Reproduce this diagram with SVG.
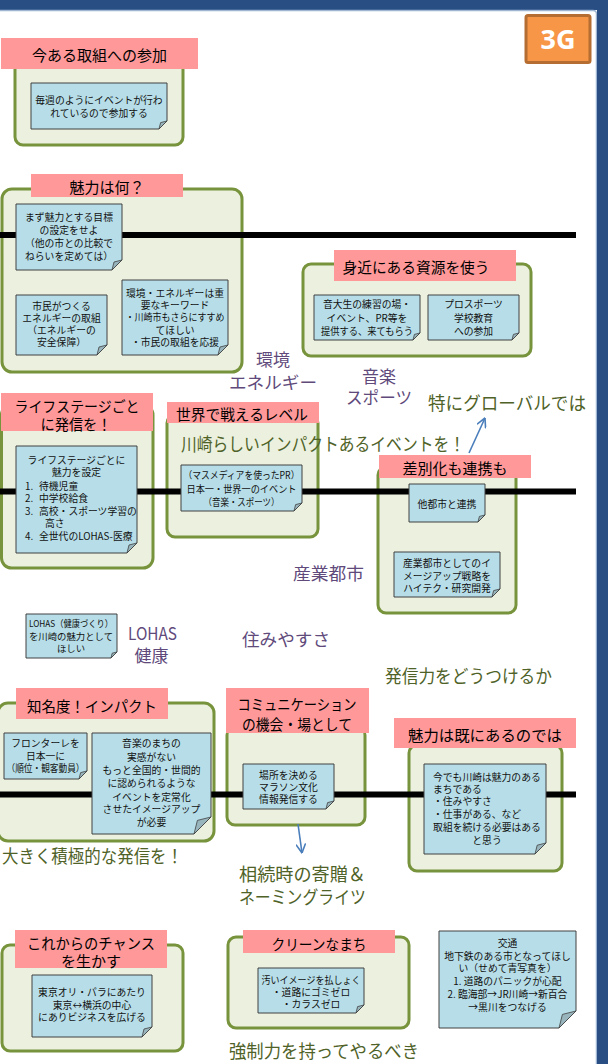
<svg xmlns="http://www.w3.org/2000/svg" width="608" height="1064" viewBox="0 0 608 1064">
<defs>
<style>
.box{fill:#EBF1DE;stroke:#77933C;stroke-width:3}
.hdr{fill:#FF9999}
.note{fill:#B7DEE8;stroke:#404040;stroke-width:1}
.fold{fill:#98B5BD;stroke:#404040;stroke-width:0.8;stroke-linejoin:round}
text{font-family:"Noto Sans CJK JP","Noto Sans",sans-serif;dominant-baseline:central}
.ht{font-size:15px;fill:#000;text-anchor:middle}
.nt{font-size:9.8px;fill:#111;text-anchor:middle}
.nl{text-anchor:start}
.pu{font-size:17px;fill:#604A7B}
.ol{font-size:18px;fill:#4F6228}
.mid{text-anchor:middle}
.sep{stroke:#000;stroke-width:6}
.arr{stroke:#4A7EBB;stroke-width:1.6;fill:none;marker-end:url(#ah)}
</style>
<marker id="ah" viewBox="0 0 10 10" refX="9.5" refY="5" markerWidth="10" markerHeight="10" orient="auto" markerUnits="userSpaceOnUse"><path d="M1,0.5 L9.5,5 L1,9.5" fill="none" stroke="#4A7EBB" stroke-width="1.6" stroke-linecap="round" stroke-linejoin="round"/></marker>
</defs>

<g id="frame">
<rect x="0" y="0" width="608" height="10" fill="#284E84"/>
<path d="M0,10.5 H593 Q596.5,10.5 596.5,14 V1064" fill="none" stroke="#9FB6D3" stroke-width="1.5"/>
<rect x="597" y="0" width="11" height="1064" fill="#284E84"/>
</g>

<g id="badge-3g">
<rect x="526" y="15.5" width="64" height="47" rx="2" fill="#F79646" stroke="#B66D31" stroke-width="3"/>
<text x="558" y="49" style="font-family:'Noto Sans','Liberation Sans',sans-serif;font-weight:bold;font-size:27px;fill:#fff;text-anchor:middle;dominant-baseline:auto">3G</text>
</g>

<g id="containers">
<g id="c-imaaru">
<rect class="box" x="15" y="55" width="168" height="90" rx="8"/>
<rect class="hdr" x="1" y="38" width="197" height="31"/>
<text class="ht" x="99.5" y="54">今ある取組への参加</text>
</g>
<g id="c-miryoku">
<rect class="box" x="2" y="189" width="240" height="183" rx="10"/>
<rect class="hdr" x="31" y="174" width="152" height="23"/>
<text class="ht" x="107" y="186">魅力は何？</text>
</g>
<g id="c-mijika">
<rect class="box" x="303" y="264" width="228" height="92" rx="8"/>
<rect class="hdr" x="334" y="250" width="182" height="31"/>
<text class="ht" x="416" y="266" textLength="147" lengthAdjust="spacingAndGlyphs">身近にある資源を使う</text>
</g>
<g id="c-lifestage">
<rect class="box" x="1.5" y="405" width="151.5" height="163" rx="10"/>
<rect class="hdr" x="1" y="393" width="152" height="38"/>
<text class="ht" x="77" y="405" textLength="125" lengthAdjust="spacingAndGlyphs">ライフステージごと</text>
<text class="ht" x="76" y="423" textLength="71" lengthAdjust="spacingAndGlyphs">に発信を！</text>
</g>
<g id="c-sekai">
<rect class="box" x="167" y="415" width="151" height="122" rx="8"/>
<rect class="hdr" x="167" y="402" width="152" height="21"/>
<text class="ht" x="242" y="413" textLength="132" lengthAdjust="spacingAndGlyphs">世界で戦えるレベル</text>
</g>
<g id="c-sabetsuka">
<rect class="box" x="378" y="467" width="138" height="146" rx="8"/>
<rect class="hdr" x="379" y="455" width="152" height="23"/>
<text class="ht" x="455" y="467">差別化も連携も</text>
</g>
<g id="c-chimeido">
<rect class="box" x="-2" y="703" width="216" height="138" rx="10"/>
<rect class="hdr" x="16" y="688" width="152" height="31"/>
<text class="ht" x="92" y="705" textLength="130" lengthAdjust="spacingAndGlyphs">知名度！インパクト</text>
</g>
<g id="c-communication">
<rect class="box" x="227" y="727" width="138" height="98" rx="8"/>
<rect class="hdr" x="226" y="688" width="143" height="45"/>
<text class="ht" x="297" y="703" textLength="119" lengthAdjust="spacingAndGlyphs">コミュニケーション</text>
<text class="ht" x="297" y="723" textLength="110" lengthAdjust="spacingAndGlyphs">の機会・場として</text>
</g>
<g id="c-sudeni">
<rect class="box" x="409" y="745" width="153" height="126" rx="8"/>
<rect class="hdr" x="394" y="718" width="182" height="30"/>
<text class="ht" x="485" y="734" textLength="154" lengthAdjust="spacingAndGlyphs">魅力は既にあるのでは</text>
</g>
<g id="c-chance">
<rect class="box" x="2" y="945" width="181" height="106" rx="8"/>
<rect class="hdr" x="15" y="930" width="152" height="38"/>
<text class="ht" x="91" y="942" textLength="128" lengthAdjust="spacingAndGlyphs">これからのチャンス</text>
<text class="ht" x="91" y="960">を生かす</text>
</g>
<g id="c-clean">
<rect class="box" x="228" y="937" width="181" height="91" rx="8"/>
<rect class="hdr" x="243" y="930" width="152" height="23"/>
<text class="ht" x="319" y="943" textLength="95" lengthAdjust="spacingAndGlyphs">クリーンなまち</text>
</g>
</g>

<g id="separators">
<line class="sep" x1="0" y1="235" x2="576" y2="235"/>
<line class="sep" x1="0" y1="491.5" x2="576" y2="491.5"/>
<line class="sep" x1="0" y1="794.5" x2="576" y2="794.5"/>
</g>

<g id="notes">
<g id="n-maishu">
<path class="note" d="M31,83 H167 V121 L159,129 H31 Z"/><path class="fold" d="M159,129 L160.6,122.6 L167,121 Z"/>
<text class="nt" x="99" y="100">毎週のようにイベントが行わ</text>
<text class="nt" x="99" y="113">れているので参加する</text>
</g>
<g id="n-mokuhyo">
<path class="note" d="M16,204 H122 V260 L112,270 H16 Z"/><path class="fold" d="M112,270 L114,262 L122,260 Z"/>
<text class="nt" x="69" y="217">まず魅力とする目標</text>
<text class="nt" x="69" y="230">の設定をせよ</text>
<text class="nt" x="69" y="243">（他の市との比較で</text>
<text class="nt" x="69" y="256">ねらいを定めては）</text>
</g>
<g id="n-shimin">
<path class="note" d="M16,295 H107 V345 L97,355 H16 Z"/><path class="fold" d="M97,355 L99,347 L107,345 Z"/>
<text class="nt" x="61.5" y="306">市民がつくる</text>
<text class="nt" x="61.5" y="318">エネルギーの取組</text>
<text class="nt" x="61.5" y="330">（エネルギーの</text>
<text class="nt" x="61.5" y="342">安全保障）</text>
</g>
<g id="n-kankyo">
<path class="note" d="M122,280 H228 V345 L218,355 H122 Z"/><path class="fold" d="M218,355 L220,347 L228,345 Z"/>
<text class="nt" x="175" y="293">環境・エネルギーは重</text>
<text class="nt" x="175" y="305">要なキーワード</text>
<text class="nt" x="175" y="317" textLength="99" lengthAdjust="spacingAndGlyphs">・川崎市もさらにすすめ</text>
<text class="nt" x="175" y="330">てほしい</text>
<text class="nt" x="175" y="342">・市民の取組を応援</text>
</g>
<g id="n-ondaisei">
<path class="note" d="M314,295 H420 V333 L413,340 H314 Z"/><path class="fold" d="M413,340 L414.4,334.4 L420,333 Z"/>
<text class="nt" x="367" y="304">音大生の練習の場・</text>
<text class="nt" x="367" y="318">イベント、PR等を</text>
<text class="nt" x="367" y="331" textLength="92" lengthAdjust="spacingAndGlyphs">提供する、来てもらう</text>
</g>
<g id="n-prosports">
<path class="note" d="M428,295 H519 V333 L512,340 H428 Z"/><path class="fold" d="M512,340 L513.4,334.4 L519,333 Z"/>
<text class="nt" x="473.5" y="304">プロスポーツ</text>
<text class="nt" x="473.5" y="318">学校教育</text>
<text class="nt" x="473.5" y="331">への参加</text>
</g>
<g id="n-lifestage">
<path class="note" d="M16,446 H137 V543 L127,553 H16 Z"/><path class="fold" d="M127,553 L129,545 L137,543 Z"/>
<text class="nt" x="76.5" y="460">ライフステージごとに</text>
<text class="nt" x="76.5" y="472">魅力を設定</text>
<text class="nt nl" x="25" y="486">1.<tspan x="39">待機児童</tspan></text>
<text class="nt nl" x="25" y="498">2.<tspan x="39">中学校給食</tspan></text>
<text class="nt nl" x="25" y="511">3.<tspan x="39">高校・スポーツ学習の</tspan></text>
<text class="nt nl" x="45" y="523">高さ</text>
<text class="nt nl" x="25" y="536">4.<tspan x="39">全世代のLOHAS-医療</tspan></text>
</g>
<g id="n-massmedia">
<path class="note" d="M181,465 H302 V503 L294,511 H181 Z"/><path class="fold" d="M294,511 L295.6,504.6 L302,503 Z"/>
<text class="nt" x="241.5" y="475" textLength="116" lengthAdjust="spacingAndGlyphs">（マスメディアを使ったPR）</text>
<text class="nt" x="241.5" y="489" textLength="110" lengthAdjust="spacingAndGlyphs">日本一・世界一のイベント</text>
<text class="nt" x="241.5" y="502" textLength="76" lengthAdjust="spacingAndGlyphs">（音楽・スポーツ）</text>
</g>
<g id="n-tatoshi">
<path class="note" d="M409,484 H485 V515 L478,522 H409 Z"/><path class="fold" d="M478,522 L479.4,516.4 L485,515 Z"/>
<text class="nt" x="447" y="504">他都市と連携</text>
</g>
<g id="n-sangyo">
<path class="note" d="M394,552 H500 V589 L492,597 H394 Z"/><path class="fold" d="M492,597 L493.6,590.6 L500,589 Z"/>
<text class="nt" x="447" y="563">産業都市としてのイ</text>
<text class="nt" x="447" y="576">メージアップ戦略を</text>
<text class="nt" x="447" y="588">ハイテク・研究開発</text>
</g>
<g id="n-lohas">
<path class="note" d="M26,614 H117 V652 L111,658 H26 Z"/><path class="fold" d="M111,658 L112.2,653.2 L117,652 Z"/>
<text class="nt" x="71" y="623" style="font-size:9.4px" textLength="84" lengthAdjust="spacingAndGlyphs">LOHAS（健康づくり）</text>
<text class="nt" x="71" y="636" style="font-size:9.4px">を川崎の魅力として</text>
<text class="nt" x="71" y="648" style="font-size:9.4px">ほしい</text>
</g>
<g id="n-frontale">
<path class="note" d="M4,733 H87 V771 L79,779 H4 Z"/><path class="fold" d="M79,779 L80.6,772.6 L87,771 Z"/>
<text class="nt" x="45.5" y="743">フロンターレを</text>
<text class="nt" x="45.5" y="756">日本一に</text>
<text class="nt" x="45.5" y="768" textLength="78" lengthAdjust="spacingAndGlyphs">（順位・観客動員）</text>
</g>
<g id="n-ongaku">
<path class="note" d="M92,733 H211 V817 L194,834 H92 Z"/><path class="fold" d="M194,834 L197.4,820.4 L211,817 Z"/>
<text class="nt" x="151.5" y="743">音楽のまちの</text>
<text class="nt" x="151.5" y="757">実感がない</text>
<text class="nt" x="151.5" y="770">もっと全国的・世間的</text>
<text class="nt" x="151.5" y="783">に認められるような</text>
<text class="nt" x="151.5" y="797">イベントを定常化</text>
<text class="nt" x="151.5" y="809">させたイメージアップ</text>
<text class="nt" x="151.5" y="822">が必要</text>
</g>
<g id="n-basho">
<path class="note" d="M243,764 H334 V801 L326,809 H243 Z"/><path class="fold" d="M326,809 L327.6,802.6 L334,801 Z"/>
<text class="nt" x="288.5" y="775">場所を決める</text>
<text class="nt" x="288.5" y="787">マラソン文化</text>
<text class="nt" x="288.5" y="799">情報発信する</text>
</g>
<g id="n-imademo">
<path class="note" d="M424,764 H546 V843 L535,854 H424 Z"/><path class="fold" d="M535,854 L537.2,845.2 L546,843 Z"/>
<text class="nt nl" x="433" y="777">今でも川崎は魅力のある</text>
<text class="nt nl" x="433" y="789">まちである</text>
<text class="nt nl" x="433" y="801">・住みやすさ</text>
<text class="nt nl" x="433" y="814">・仕事がある、など</text>
<text class="nt" x="487" y="827">取組を続ける必要はある</text>
<text class="nt" x="487" y="840">と思う</text>
</g>
<g id="n-tokyo">
<path class="note" d="M32,975 H152 V1027 L142,1037 H32 Z"/><path class="fold" d="M142,1037 L144,1029 L152,1027 Z"/>
<text class="nt" x="92" y="992">東京オリ・パラにあたり</text>
<text class="nt" x="92" y="1005">東京↔横浜の中心</text>
<text class="nt" x="92" y="1017">にありビジネスを広げる</text>
</g>
<g id="n-kitanai">
<path class="note" d="M258,968 H364 V1005 L356,1013 H258 Z"/><path class="fold" d="M356,1013 L357.6,1006.6 L364,1005 Z"/>
<text class="nt" x="311" y="979.5" textLength="99" lengthAdjust="spacingAndGlyphs">汚いイメージを払しょく</text>
<text class="nt" x="311" y="991.5">・道路にゴミゼロ</text>
<text class="nt" x="311" y="1003.5">・カラスゼロ</text>
</g>
<g id="n-kotsu">
<path class="note" d="M439,931 H576 V1011 L559,1028 H439 Z"/><path class="fold" d="M559,1028 L562.4,1014.4 L576,1011 Z"/>
<text class="nt" x="507.5" y="943">交通</text>
<text class="nt" x="507.5" y="956">地下鉄のある市となってほし</text>
<text class="nt" x="507.5" y="968">い（せめて青写真を）</text>
<text class="nt" x="507.5" y="981">1. 道路のパニックが心配</text>
<text class="nt" x="507.5" y="994">2. 臨海部→JR川崎→新百合</text>
<text class="nt" x="507.5" y="1007">→黒川をつなげる</text>
</g>
</g>

<g id="labels">
<text class="pu mid" x="273" y="358">環境</text>
<text class="pu mid" x="273" y="381" textLength="88" lengthAdjust="spacingAndGlyphs">エネルギー</text>
<text class="pu mid" x="379" y="375">音楽</text>
<text class="pu mid" x="379" y="396" textLength="66" lengthAdjust="spacingAndGlyphs">スポーツ</text>
<text class="pu" x="293" y="572" textLength="71" lengthAdjust="spacingAndGlyphs">産業都市</text>
<text class="pu mid" x="152.5" y="632" textLength="49" lengthAdjust="spacingAndGlyphs">LOHAS</text>
<text class="pu mid" x="151.5" y="654">健康</text>
<text class="pu" x="242" y="638" textLength="88" lengthAdjust="spacingAndGlyphs">住みやすさ</text>
<text class="ol" x="428" y="402" textLength="158" lengthAdjust="spacingAndGlyphs">特にグローバルでは</text>
<text class="ol" x="181" y="443" textLength="284" lengthAdjust="spacingAndGlyphs">川崎らしいインパクトあるイベントを！</text>
<text class="ol" x="385" y="675" textLength="167" lengthAdjust="spacingAndGlyphs">発信力をどうつけるか</text>
<text class="ol" x="2" y="855" textLength="181" lengthAdjust="spacingAndGlyphs">大きく積極的な発信を！</text>
<text class="ol" x="239" y="873" textLength="127" lengthAdjust="spacingAndGlyphs">相続時の寄贈＆</text>
<text class="ol" x="239" y="896" textLength="127" lengthAdjust="spacingAndGlyphs">ネーミングライツ</text>
<text class="ol" x="229" y="1050" textLength="190" lengthAdjust="spacingAndGlyphs">強制力を持ってやるべき</text>
</g>

<g id="connectors">
<path class="arr" d="M469,453 L485,418"/>
<path class="arr" d="M298,824 L302,853"/>
</g>
</svg>
